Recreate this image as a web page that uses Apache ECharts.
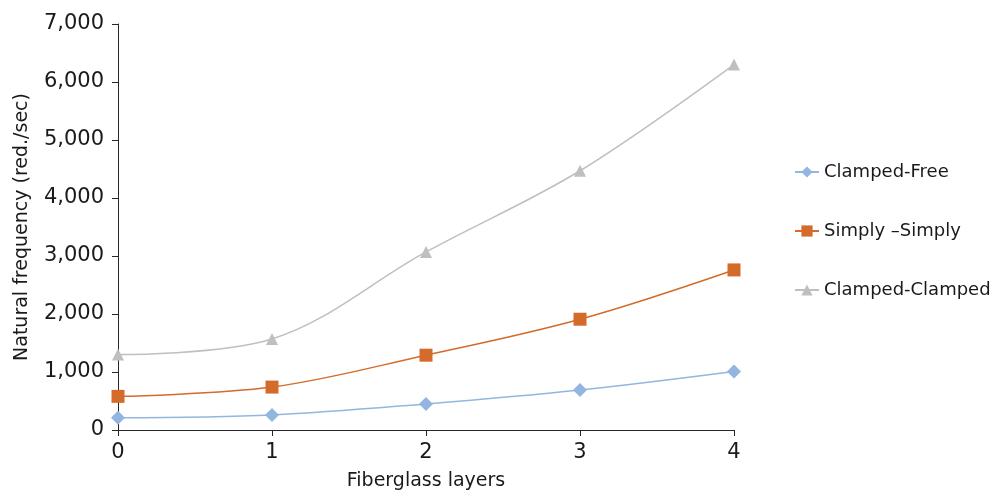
<!DOCTYPE html>
<html>
<head>
<meta charset="utf-8">
<script src="https://cdn.jsdelivr.net/npm/echarts@6/dist/echarts.min.js"></script>
<style>html,body{margin:0;padding:0;background:#fff;}#chart{width:996px;height:493px;}</style>
</head>
<body>
<div id="chart"></div>
<script>
const layers = [0, 1, 2, 3, 4];
const clampedFree = [210, 260, 450, 690, 1010];
const simplySimply = [580, 740, 1290, 1910, 2760];
const clampedClamped = [1300, 1570, 3070, 4470, 6300];
const seriesNames = ['Clamped-Free', 'Simply \u2013Simply', 'Clamped-Clamped'];

const font = 'DejaVu Sans';
const chart = echarts.init(document.getElementById('chart'));
function pairs(vals){ return layers.map((x,i)=>[x, vals[i]]); }
chart.setOption({
  animation: false,
  grid: {left: 118, right: 262, top: 24, bottom: 63, containLabel: false, outerBoundsMode: 'none'},
  xAxis: {
    type: 'value', min: 0, max: 4, interval: 1,
    name: 'Fiberglass layers', nameLocation: 'middle', nameGap: 42,
    nameTextStyle: {fontFamily: font, fontSize: 19, color: '#1a1a1a'},
    axisLine: {lineStyle: {color: '#262626', width: 1}},
    axisTick: {show: true, length: 6, lineStyle: {color: '#262626'}},
    axisLabel: {fontFamily: font, fontSize: 21, color: '#1a1a1a', margin: 12},
    splitLine: {show: false}
  },
  yAxis: {
    type: 'value', min: 0, max: 7000, interval: 1000,
    name: 'Natural frequency (red./sec)', nameLocation: 'middle', nameGap: 86,
    nameTextStyle: {fontFamily: font, fontSize: 19, color: '#1a1a1a'},
    axisLine: {show: true, lineStyle: {color: '#262626', width: 1}},
    axisTick: {show: true, length: 6, lineStyle: {color: '#262626'}},
    axisLabel: {fontFamily: font, fontSize: 21, color: '#1a1a1a', margin: 14,
      formatter: v => v.toLocaleString('en-US')},
    splitLine: {show: false}
  },
  legend: {
    orient: 'vertical', left: 789, top: 158, itemGap: 41,
    itemWidth: 24, itemHeight: 14,
    textStyle: {fontFamily: font, fontSize: 18, color: '#1a1a1a'},
    data: seriesNames
  },
  series: [
    {name: seriesNames[0], type: 'line', data: pairs(clampedFree), smooth: 0.35,
     symbol: 'diamond', symbolSize: 14, color: '#93B6E1', lineStyle: {width: 1.5}},
    {name: seriesNames[1], type: 'line', data: pairs(simplySimply), smooth: 0.35,
     symbol: 'rect', symbolSize: 13, color: '#D56B2A', lineStyle: {width: 1.5}},
    {name: seriesNames[2], type: 'line', data: pairs(clampedClamped), smooth: 0.35,
     symbol: 'triangle', symbolSize: 12, color: '#BFBFBF', lineStyle: {width: 1.5}}
  ]
});
</script>
</body>
</html>
